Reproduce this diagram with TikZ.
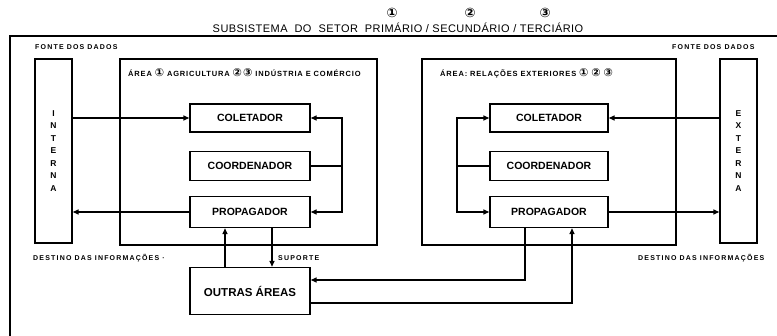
\documentclass[tikz,border=0pt]{standalone}
\usepackage{fontspec}
\setmainfont{Liberation Sans}
\newfontfamily\symf{DejaVu Sans}
\usetikzlibrary{arrows.meta}
\newcommand{\cn}[1]{{\fontsize{11}{9}\symf\bfseries #1}}
\tikzset{
  ln/.style={line width=1.4pt},
  arr/.style={ln,-{Triangle[length=6pt,width=5pt]}},
  box/.style={draw,ln,inner sep=0pt,font=\fontsize{10.5}{12}\selectfont\bfseries},
  tall/.style={draw,ln,inner sep=0pt,minimum width=37pt,minimum height=184pt,align=center,
     font=\fontsize{8.5}{12.5}\selectfont\bfseries},
  area/.style={draw,ln,inner sep=0pt},
  small/.style={inner sep=0pt,anchor=west,font=\fontsize{7}{8}\selectfont\bfseries\addfontfeature{LetterSpace=17}},
  albl/.style={inner sep=0pt,anchor=west,font=\fontsize{7.5}{8}\selectfont\bfseries\addfontfeature{LetterSpace=11}},
}
\begin{document}
\begin{tikzpicture}[x=1pt,y=-1pt]
\useasboundingbox (0,0) rectangle (777,335);
% outer frame (open at right and bottom)
\draw[ln] (10,345) -- (10,36) -- (790,36);
% title
\node[inner sep=0pt,font=\fontsize{11}{12}\selectfont\addfontfeature{LetterSpace=4}] (title) at (398,28)
  {SUBSISTEMA \ DO \ SETOR \ PRIMÁRIO / SECUNDÁRIO / TERCIÁRIO};
\node[inner sep=0pt,font=\fontsize{13}{13}\selectfont] (n1) at (392,13) {{\symf\bfseries ①}};
\node[inner sep=0pt,font=\fontsize{13}{13}\selectfont] (n2) at (470,13) {{\symf\bfseries ②}};
\node[inner sep=0pt,font=\fontsize{13}{13}\selectfont] (n3) at (545,13) {{\symf\bfseries ③}};
% source/destination labels
\node[small] (fl) at (35,47) {FONTE DOS DADOS};
\node[small] (fr) at (672,47) {FONTE DOS DADOS};
\node[small] (dl) at (33,258) {DESTINO DAS INFORMAÇÕES ·};
\node[small] (dr) at (638,258) {DESTINO DAS INFORMAÇÕES};
\node[small] (sup) at (278,258) {SUPORTE};
% side boxes
\node[tall] (intern) at (53.5,151) {I\\N\\T\\E\\R\\N\\A};
\node[tall] (extern) at (738.5,151) {E\\X\\T\\E\\R\\N\\A};
% area boxes
\node[area,minimum width=257pt,minimum height=186pt] (larea) at (248.5,152) {};
\node[area,minimum width=254pt,minimum height=186pt] (rarea) at (549,152) {};
\node[albl] (llab) at (128,73) {ÁREA \cn{①} AGRICULTURA \cn{②}\,\cn{③} INDÚSTRIA E COMÉRCIO};
\node[albl] (rlab) at (440,73) {ÁREA: RELAÇÕES EXTERIORES \cn{①} \cn{②} \cn{③}};
% left boxes
\node[box,minimum width=120pt,minimum height=28pt] (lcol) at (250,118) {COLETADOR};
\node[box,minimum width=120pt,minimum height=29pt] (lcoord) at (250,166) {COORDENADOR};
\node[box,minimum width=120pt,minimum height=31pt] (lprop) at (250,212) {PROPAGADOR};
\node[box,minimum width=120pt,minimum height=47pt,font=\fontsize{11.5}{12}\selectfont\bfseries] (outras) at (250,291) {OUTRAS ÁREAS};
% right boxes
\node[box,minimum width=118pt,minimum height=28pt] (rcol) at (549,118) {COLETADOR};
\node[box,minimum width=118pt,minimum height=29pt] (rcoord) at (549,166) {COORDENADOR};
\node[box,minimum width=118pt,minimum height=31pt] (rprop) at (549,212) {PROPAGADOR};
% left connectors
\draw[arr] (intern.east |- lcol.west) -- (lcol.west);
\draw[arr] (lprop.west) -- (intern.east |- lprop.west);
\coordinate (lb) at (342,166);
\draw[arr] (lcoord.east) -- (lb) |- (lcol.east);
\draw[arr] (lb) |- (lprop.east);
\draw[arr] ([xshift=-25pt]outras.north) -- ([xshift=-25pt]lprop.south);
\draw[arr] ([xshift=22pt]lprop.south) -- ([xshift=22pt]outras.north);
% right connectors
\draw[arr] (extern.west |- rcol.east) -- (rcol.east);
\draw[arr] (rprop.east) -- (extern.west |- rprop.east);
\coordinate (rb) at (457,166);
\draw[arr] (rcoord.west) -- (rb) |- (rcol.west);
\draw[arr] (rb) |- (rprop.west);
\draw[arr] ([xshift=-24pt]rprop.south) |- ([yshift=11pt]outras.east);
\draw[arr] ([yshift=-12pt]outras.east) -| ([xshift=23pt]rprop.south);
\end{tikzpicture}
\end{document}
